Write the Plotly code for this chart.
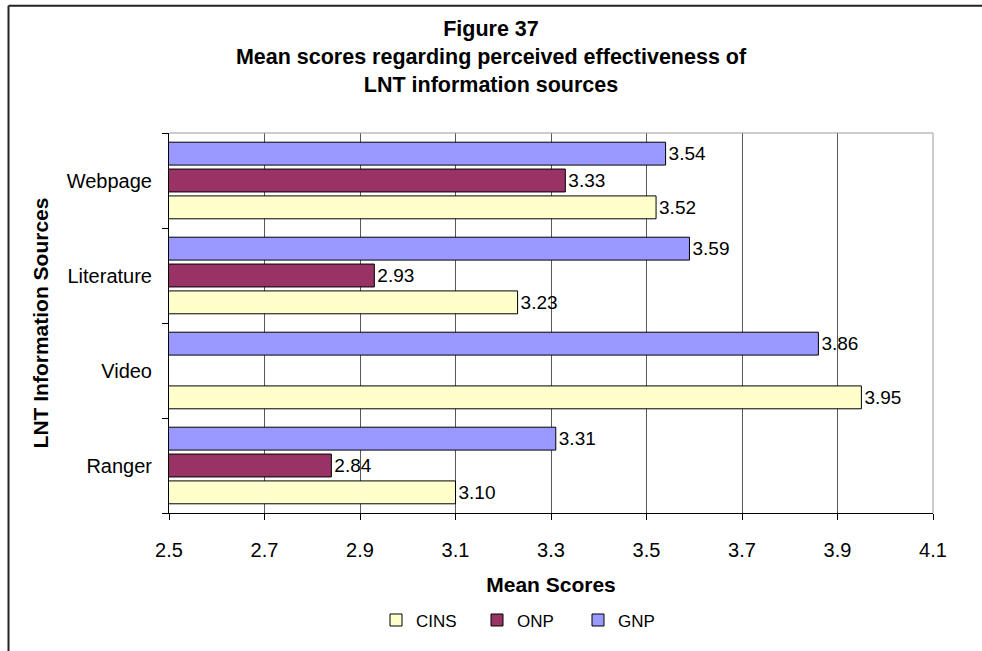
import plotly.graph_objects as go

# Data
sources = ["Ranger", "Video", "Literature", "Webpage"]
cins = [3.10, 3.95, 3.23, 3.52]
onp = [2.84, None, 2.93, 3.33]
gnp = [3.31, 3.86, 3.59, 3.54]

series = [
    ("CINS", cins, "#FFFFCC"),
    ("ONP", onp, "#993366"),
    ("GNP", gnp, "#9999FF"),
]

W, H = 982, 651
L, R, T, B = 169, 49, 133, 136
PW, PH = W - L - R, H - T - B


def px_x(p):
    return (p - L) / PW


def px_y(p):
    return (H - B - p) / PH


FONT = "Liberation Sans, Arial, sans-serif"

fig = go.Figure()
for name, vals, color in series:
    fig.add_trace(go.Bar(
        name=name,
        y=sources,
        x=vals,
        orientation="h",
        marker=dict(color=color, line=dict(color="#000000", width=1)),
        text=[None if v is None else f"{v:.2f}" for v in vals],
        textposition="outside",
        textfont=dict(family=FONT, size=19, color="#000000"),
        constraintext="none",
        cliponaxis=False,
        hoverinfo="x+name",
    ))

fig.update_layout(
    width=W, height=H,
    margin=dict(l=L, r=R, t=T, b=B, pad=0),
    paper_bgcolor="white",
    plot_bgcolor="white",
    barmode="group",
    bargap=0.152,
    bargroupgap=0.148,
    font=dict(family=FONT, color="#000000"),
    title=dict(
        text="<b>Figure 37<br>Mean scores regarding perceived effectiveness of<br>LNT information sources</b>",
        font=dict(family=FONT, size=21.5, color="#000000"),
        x=0.5, xref="container", xanchor="center",
        y=1 - 36 / H, yref="container", yanchor="middle",
    ),
    xaxis=dict(
        range=[2.5, 4.1],
        dtick=0.2,
        tick0=2.5,
        tickformat=".1f",
        showgrid=True,
        gridcolor="#5a5a5a",
        gridwidth=1,
        zeroline=False,
        showline=True,
        linecolor="#000000",
        linewidth=1,
        ticks="outside",
        ticklen=6,
        tickcolor="#000000",
        tickfont=dict(family=FONT, size=20),
        ticklabelstandoff=13,
        title=dict(text="<b>Mean Scores</b>", font=dict(family=FONT, size=21), standoff=17),
    ),
    yaxis=dict(
        categoryorder="array",
        categoryarray=sources,
        showgrid=False,
        showline=True,
        linecolor="#000000",
        linewidth=1,
        ticks="outside",
        tickson="boundaries",
        ticklen=6,
        tickcolor="#000000",
        tickfont=dict(family=FONT, size=20),
        ticklabelstandoff=12,
        title=dict(text="<b>LNT Information Sources</b>", font=dict(family=FONT, size=21), standoff=12),
    ),
    legend=dict(
        orientation="h",
        x=px_x(376), xanchor="left",
        y=px_y(623), yanchor="middle",
        font=dict(family=FONT, size=17),
        entrywidth=56,
        entrywidthmode="pixels",
        traceorder="normal",
    ),
    shapes=[
        # plot area frame (top and right edges)
        dict(type="line", xref="paper", yref="paper", x0=0, x1=1, y0=1, y1=1,
             line=dict(color="#9a9a9a", width=1)),
        dict(type="line", xref="paper", yref="paper", x0=1, x1=1, y0=0, y1=1,
             line=dict(color="#9a9a9a", width=1)),
        # chart border (left and top edges)
        dict(type="line", xref="paper", yref="paper",
             x0=px_x(8.5), x1=px_x(8.5), y0=px_y(5), y1=px_y(660),
             line=dict(color="#222222", width=2)),
        dict(type="line", xref="paper", yref="paper",
             x0=px_x(8.5), x1=px_x(990), y0=px_y(5), y1=px_y(5),
             line=dict(color="#222222", width=2)),
    ],
)

fig.write_html("out.html")
